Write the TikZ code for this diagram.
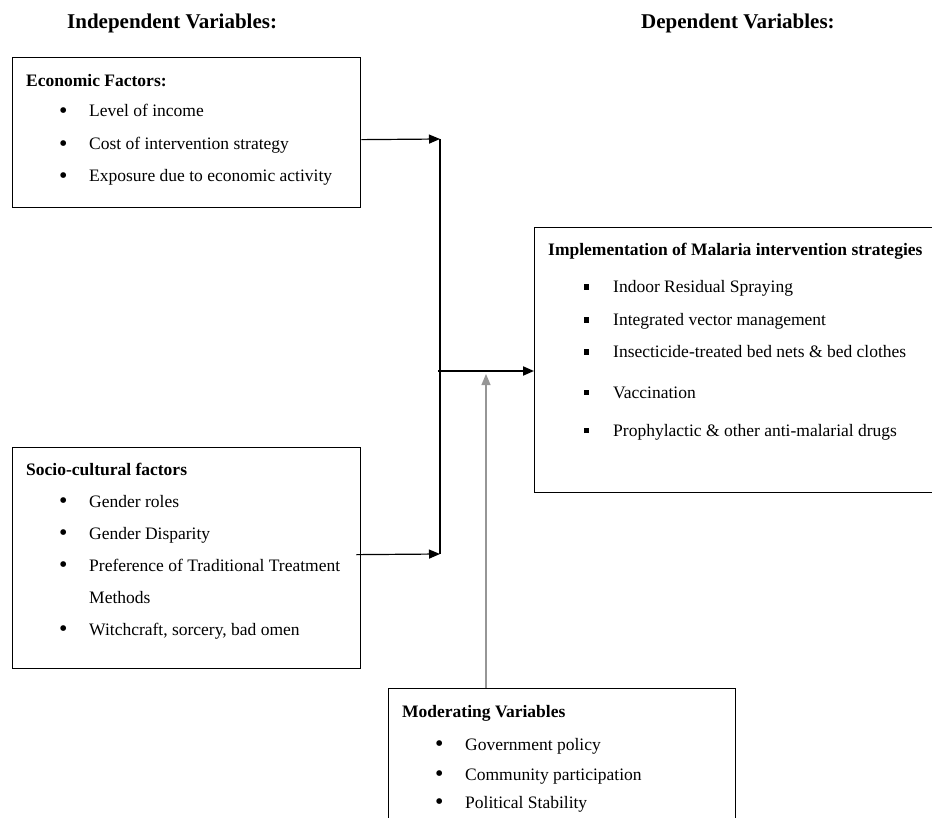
\documentclass[tikz,border=0pt]{standalone}
\usepackage{fontspec}
\setmainfont{Liberation Serif}
\usepackage{tikz}
\usetikzlibrary{arrows.meta}
\definecolor{modgray}{RGB}{150,150,150}

\tikzset{
  varbox/.style={draw, line width=1.3pt, inner sep=0pt, anchor=north west},
  txt/.style={anchor=base west, inner sep=0pt, font=\fontsize{17.5}{21}\selectfont},
  ttl/.style={txt, font=\fontsize{17.5}{21}\selectfont\bfseries},
  hdr/.style={anchor=base west, inner sep=0pt, font=\fontsize{21}{25}\selectfont\bfseries},
  link/.style={line width=1.2pt, -{Triangle[length=11pt,width=9pt]}},
}
\newcommand{\rb}{\makebox[30pt][l]{\raisebox{-1.6pt}{\fontsize{24}{24}\selectfont\textbullet}}}
\newcommand{\sqb}{\makebox[29pt][l]{\rule[3pt]{5pt}{5.5pt}}}

\begin{document}
\begin{tikzpicture}[x=1pt,y=-1pt]
  \useasboundingbox (0,0) rectangle (932,818);

  % headings
  \node[hdr] (indep) at (67,29) {Independent Variables:};
  \node[hdr] (dep) at (641,29) {Dependent Variables:};

  % economic factors
  \node[varbox, minimum width=348pt, minimum height=150pt] (ecobox) at (12,57) {};
  \node[ttl] (ecot) at (26,87) {Economic Factors:};
  \node[txt] (eco1) at (59,117) {\rb Level of income};
  \node[txt] (eco2) at (59,149.5) {\rb Cost of intervention strategy};
  \node[txt] (eco3) at (59,182) {\rb Exposure due to economic activity};

  % socio-cultural factors
  \node[varbox, minimum width=348pt, minimum height=221pt] (socbox) at (12,447) {};
  \node[ttl] (soct) at (26,475) {Socio-cultural factors};
  \node[txt] (soc1) at (59,507) {\rb Gender roles};
  \node[txt] (soc2) at (59,539) {\rb Gender Disparity};
  \node[txt] (soc3) at (59,571) {\rb Preference of Traditional Treatment};
  \node[txt] (soc3b) at (89,603) {Methods};
  \node[txt] (soc4) at (59,635) {\rb Witchcraft, sorcery, bad omen};

  % dependent variables
  \node[varbox, minimum width=420pt, minimum height=265pt] (implbox) at (534,227) {};
  \node[ttl] (implt) at (548,256) {Implementation of Malaria intervention strategies};
  \node[txt] (impl1) at (584,293) {\sqb Indoor Residual Spraying};
  \node[txt] (impl2) at (584,326) {\sqb Integrated vector management};
  \node[txt] (impl3) at (584,358) {\sqb Insecticide-treated bed nets \& bed clothes};
  \node[txt] (impl4) at (584,398) {\sqb Vaccination};
  \node[txt] (impl5) at (584,436) {\sqb Prophylactic \& other anti-malarial drugs};

  % moderating variables
  \node[varbox, minimum width=347pt, minimum height=150pt] (modbox) at (388,688) {};
  \node[ttl] (modt) at (402,717) {Moderating Variables};
  \node[txt] (mod1) at (435,750) {\rb Government policy};
  \node[txt] (mod2) at (435,780) {\rb Community participation};
  \node[txt] (mod3) at (435,808) {\rb Political Stability};

  % connectors
  \coordinate (jtop) at (440,139);
  \coordinate (jbot) at (440,554);
  \coordinate (jmid) at (438,371);
  \coordinate (modtip) at (486,374);
  \draw[link] ([yshift=-7pt]ecobox.east) -- (jtop);
  \draw[line width=1.2pt] (jtop) -- (jbot);
  \draw[link] ([xshift=-5pt,yshift=3.5pt]socbox.east) -- (jbot);
  \draw[link, line width=2pt] (jmid) -- (implbox.west |- jmid);
  \draw[link, modgray] (modbox.north -| modtip) -- (modtip);
\end{tikzpicture}
\end{document}
